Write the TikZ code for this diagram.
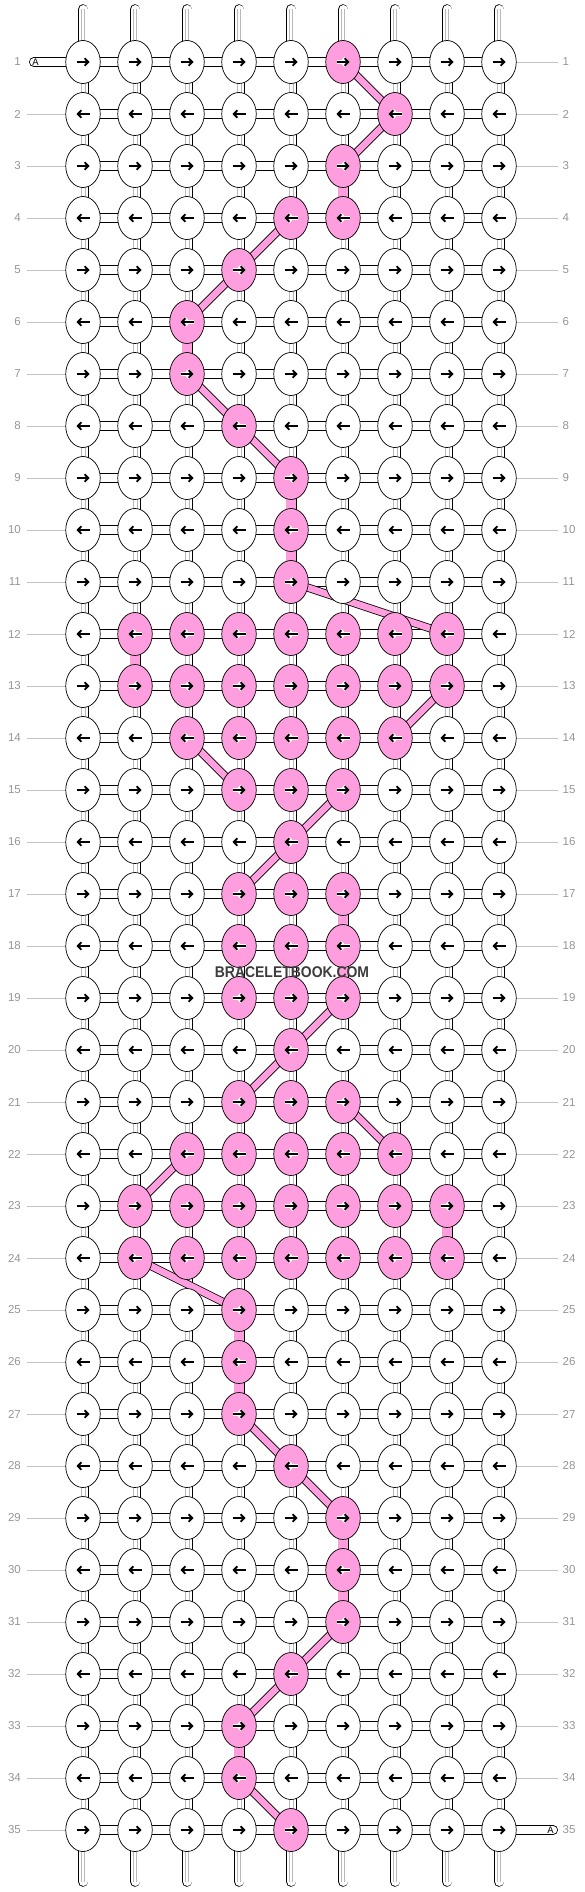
\documentclass[tikz,border=0pt]{standalone}
\usepackage{fontspec}
\setmainfont{Liberation Sans}
\usetikzlibrary{arrows.meta,shapes.geometric}
\definecolor{pk}{RGB}{255,158,222}
\definecolor{lblc}{RGB}{150,150,150}
\definecolor{lnc}{RGB}{195,195,195}
\definecolor{inc}{RGB}{185,185,185}
\definecolor{wmc}{RGB}{60,60,60}
\tikzset{
 knot/.style={ellipse,draw=black,line width=0.7pt,minimum width=34.5pt,minimum height=43pt,inner sep=0pt},
 hcon/.style={draw=black,line width=0.8pt,double=white,double distance=8.4pt},
 vcon/.style={draw=black,line width=0.8pt,double=white,double distance=9.4pt},
 vpink/.style={draw=black,line width=0.8pt,double=pk,double distance=9.4pt},
 strand/.style={draw=black,line width=0.8pt,double=white,double distance=9pt,line cap=round},
 astrand/.style={draw=black,line width=0.8pt,double=white,double distance=8.4pt,line cap=round},
 inner/.style={draw=inc,line width=0.6pt},
 tube/.style={draw=black,line width=0.8pt,double=pk,double distance=6.6pt},
 guide/.style={draw=lnc,line width=0.8pt},
 arr/.style={draw=black,line width=1.9pt,-{Straight Barb[length=3.6pt,width=7.6pt]}},
 halo/.style={draw=white,line width=3.8pt,-{Straight Barb[length=3.6pt,width=7.6pt]}},
 rowlbl/.style={text=lblc,font=\fontsize{11.5}{12}\selectfont,inner sep=0pt},
 alabel/.style={text=black,font=\fontsize{9.5}{10}\selectfont,inner sep=0pt},
 wmark/.style={text=wmc,font=\bfseries\fontsize{15.5}{16}\selectfont,inner sep=0pt},
}
\def\pinklist{1/6,2/7,3/6,4/5,4/6,5/4,6/3,7/3,8/4,9/5,10/5,11/5,
12/2,12/3,12/4,12/5,12/6,12/7,12/8,
13/2,13/3,13/4,13/5,13/6,13/7,13/8,
14/3,14/4,14/5,14/6,14/7,
15/4,15/5,15/6,16/5,17/4,17/5,17/6,18/4,18/5,18/6,19/4,19/5,19/6,20/5,21/4,21/5,21/6,
22/3,22/4,22/5,22/6,22/7,
23/2,23/3,23/4,23/5,23/6,23/7,23/8,
24/2,24/3,24/4,24/5,24/6,24/7,24/8,
25/4,26/4,27/4,28/5,29/6,30/6,31/6,32/5,33/4,34/4,35/5}
\def\pinkvlist{3/6,6/3,9/5,10/5,12/2,17/6,18/6,23/8,25/4,26/4,29/6,30/6,33/4}
\foreach \r/\c in \pinklist {\expandafter\gdef\csname pk-\r-\c\endcsname{1}}
\foreach \r/\c in \pinkvlist {\expandafter\gdef\csname pv-\r-\c\endcsname{1}}
\begin{document}
\begin{tikzpicture}[x=1pt,y=-1pt]
\useasboundingbox (0,0) rectangle (584,1892);
\fill[white] (0,0) rectangle (584,1892);
% coordinates
\foreach \r in {1,...,35}{\foreach \c in {1,...,9}{\coordinate (p-\r-\c) at ({83+52*(\c-1)},{62+52*(\r-1)});}}
\foreach \c in {1,...,9}{\coordinate (t-\c) at ({83+52*(\c-1)},9.5); \coordinate (b-\c) at ({83+52*(\c-1)},1881.5);}
\foreach \r in {1,...,35}{\coordinate (gL-\r) at (27,{62+52*(\r-1)}); \coordinate (gR-\r) at (558,{62+52*(\r-1)});}
\coordinate (aL) at (34,62);
\coordinate (aR) at (553,1830);
% guide lines
\foreach \r in {2,...,35}{\draw[guide] (gL-\r) -- (p-\r-1);}
\foreach \r in {1,...,34}{\draw[guide] (p-\r-9) -- (gR-\r);}
% row labels
\foreach \r in {1,...,35}{
  \node[rowlbl,anchor=east] (ll-\r) at (21,{62+52*(\r-1)}) {\r};
  \node[rowlbl,anchor=west] (lr-\r) at (562.5,{62+52*(\r-1)}) {\r};
}
% top and bottom strands
\foreach \c in {1,...,9}{
  \draw[strand] (t-\c) -- (p-1-\c);
  \draw[strand] (p-35-\c) -- (b-\c);
  \draw[inner] ([xshift=-1.5pt]t-\c) -- ([xshift=-1.5pt]p-1-\c);
  \draw[inner] ([xshift=1.5pt]t-\c) -- ([xshift=1.5pt]p-1-\c);
  \draw[inner] ([xshift=-1.5pt]p-35-\c) -- ([xshift=-1.5pt]b-\c);
  \draw[inner] ([xshift=1.5pt]p-35-\c) -- ([xshift=1.5pt]b-\c);
}
% A strands
\draw[astrand] (aL) -- (p-1-1);
\draw[astrand] (p-35-9) -- (aR);
\node[alabel] (aLt) at (35.5,62) {A};
\node[alabel] (aRt) at (550.5,1830) {A};
% horizontal connectors
\foreach \r in {1,...,35}{\foreach \c [evaluate=\c as \cn using int(\c+1)] in {1,...,8}{\draw[hcon] (p-\r-\c) -- (p-\r-\cn);}}
% vertical connectors
\foreach \r [evaluate=\r as \rn using int(\r+1)] in {1,...,34}{\foreach \c in {1,...,9}{
  \ifcsname pv-\r-\c\endcsname
    \draw[vpink] (p-\r-\c) -- (p-\rn-\c);
  \else
    \draw[vcon] (p-\r-\c) -- (p-\rn-\c);
    \draw[inner] ([xshift=-2pt]p-\r-\c) -- ([xshift=-2pt]p-\rn-\c);
    \draw[inner] ([xshift=2pt]p-\r-\c) -- ([xshift=2pt]p-\rn-\c);
  \fi
}}
% pink tubes
\foreach \ra/\ca/\rb/\cb in {1/6/2/7,2/7/3/6,4/5/5/4,5/4/6/3,7/3/8/4,8/4/9/5,11/5/12/8,13/8/14/7,14/3/15/4,15/6/16/5,16/5/17/4,19/6/20/5,20/5/21/4,21/6/22/7,22/3/23/2,24/2/25/4,27/4/28/5,28/5/29/6,31/6/32/5,32/5/33/4,34/4/35/5}{
  \draw[tube] (p-\ra-\ca) -- (p-\rb-\cb);
}
% knots
\foreach \r in {1,...,35}{\foreach \c in {1,...,9}{
  \ifodd\r \def\xa{-6.5pt}\def\xb{6.5pt}\else\def\xa{6.5pt}\def\xb{-6.5pt}\fi
  \ifcsname pk-\r-\c\endcsname
    \node[knot,fill=pk] (k-\r-\c) at (p-\r-\c) {};
    \draw[halo] ([xshift=\xa]k-\r-\c.center) -- ([xshift=\xb]k-\r-\c.center);
  \else
    \node[knot,fill=white] (k-\r-\c) at (p-\r-\c) {};
  \fi
  \draw[arr] ([xshift=\xa]k-\r-\c.center) -- ([xshift=\xb]k-\r-\c.center);
}}
% watermark
\node[wmark] (wm) at (292,972) {\scalebox{0.9}[1]{BRACELETBOOK.COM}};
\end{tikzpicture}
\end{document}
